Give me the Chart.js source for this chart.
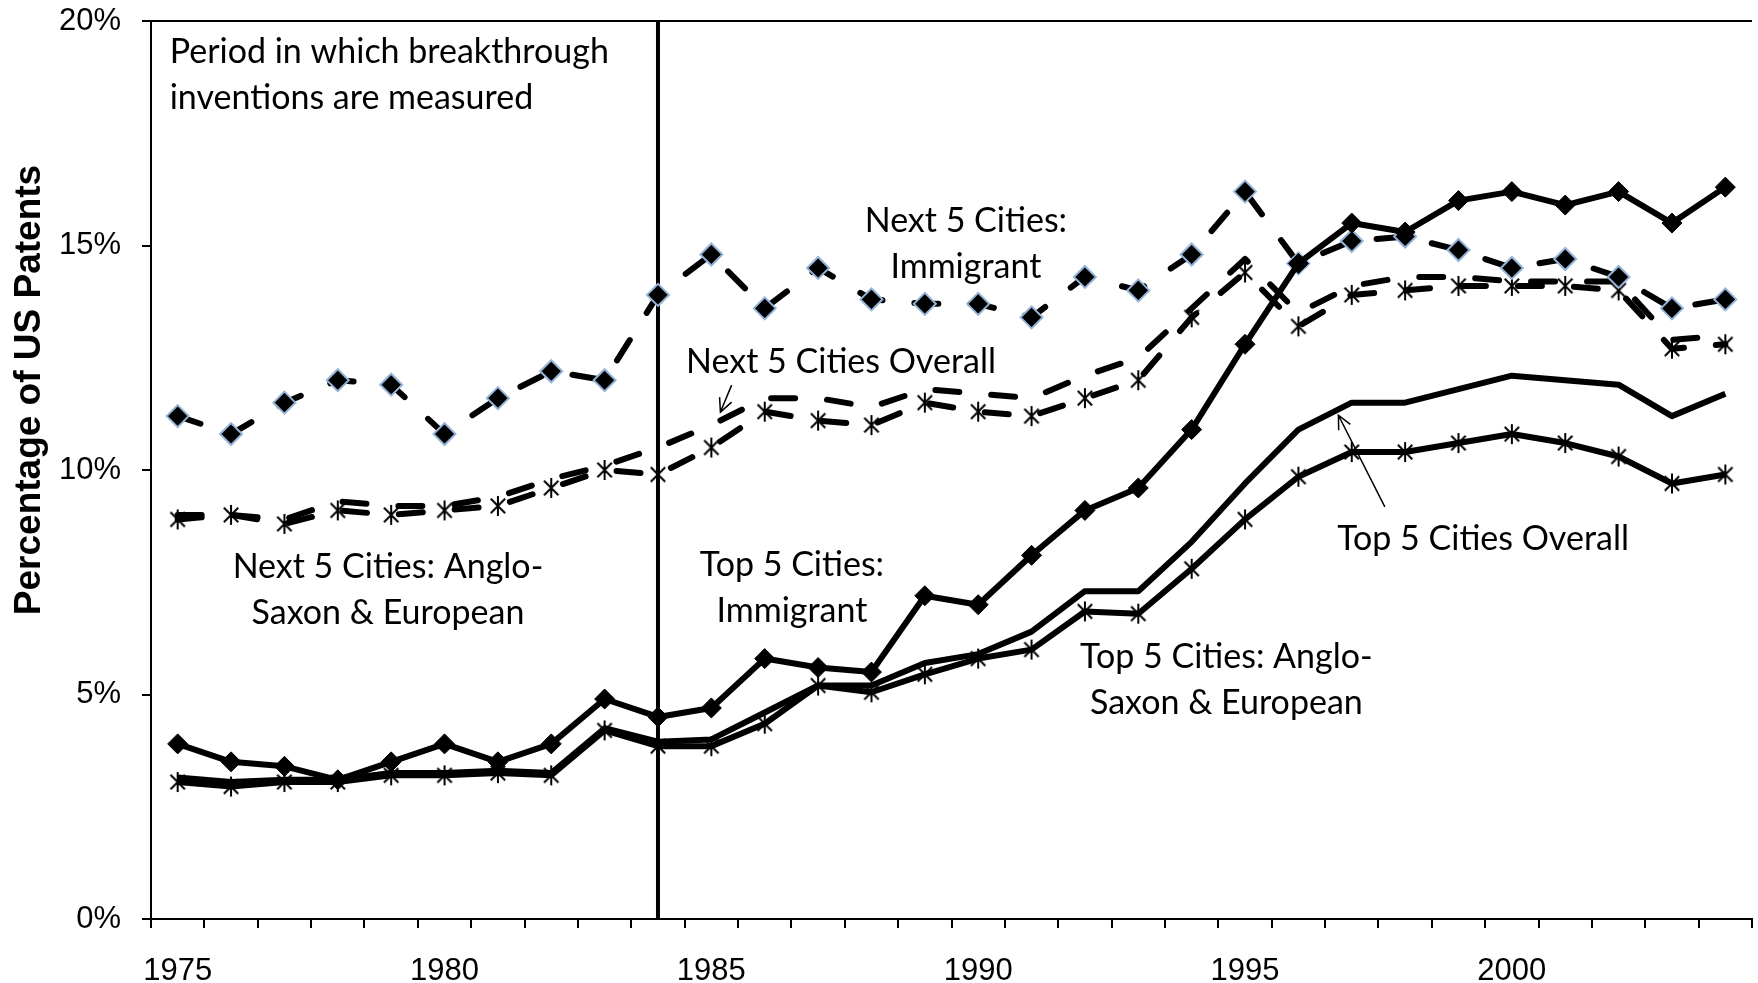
<!DOCTYPE html>
<html>
<head>
<meta charset="utf-8">
<script src="https://cdn.jsdelivr.net/npm/chart.js@4.4.0/dist/chart.umd.min.js"></script>
<style>
  html, body { margin: 0; padding: 0; background: #fff; overflow: hidden; }
  #wrap { width: 1768px; height: 983px; position: relative; }
</style>
</head>
<body>
<div id="wrap"><canvas id="patentChart"></canvas></div>
<script>
var years = ['1975','1976','1977','1978','1979','1980','1981','1982','1983','1984',
             '1985','1986','1987','1988','1989','1990','1991','1992','1993','1994',
             '1995','1996','1997','1998','1999','2000','2001','2002','2003','2004'];

// share of US patents, %
var next5Immigrant = [11.2,10.8,11.5,12.0,11.9,10.8,11.6,12.2,12.0,13.9,
                      14.8,13.6,14.5,13.8,13.7,13.7,13.4,14.3,14.0,14.8,
                      16.2,14.6,15.1,15.2,14.9,14.5,14.7,14.3,13.6,13.8];
var next5Overall   = [9.0,9.0,8.9,9.3,9.2,9.2,9.4,9.8,10.1,10.5,
                      11.0,11.6,11.6,11.4,11.8,11.7,11.6,12.1,12.5,13.6,
                      14.7,13.5,14.1,14.3,14.3,14.2,14.2,14.2,12.9,13.0];
var next5Anglo     = [8.9,9.0,8.8,9.1,9.0,9.1,9.2,9.6,10.0,9.9,
                      10.5,11.3,11.1,11.0,11.5,11.3,11.2,11.6,12.0,13.4,
                      14.4,13.2,13.9,14.0,14.1,14.1,14.1,14.0,12.7,12.8];
var top5Immigrant  = [3.9,3.5,3.4,3.1,3.5,3.9,3.5,3.9,4.9,4.5,
                      4.7,5.8,5.6,5.5,7.2,7.0,8.1,9.1,9.6,10.9,
                      12.8,14.6,15.5,15.3,16.0,16.2,15.9,16.2,15.5,16.3];
var top5Overall    = [3.15,3.05,3.1,3.1,3.25,3.25,3.3,3.25,4.25,3.95,
                      4.0,4.6,5.2,5.2,5.7,5.9,6.4,7.3,7.3,8.4,
                      9.7,10.9,11.5,11.5,11.8,12.1,12.0,11.9,11.2,11.7];
var top5Anglo      = [3.05,2.95,3.05,3.05,3.2,3.2,3.25,3.2,4.2,3.85,
                      3.85,4.35,5.2,5.05,5.45,5.8,6.0,6.85,6.8,7.8,
                      8.9,9.85,10.4,10.4,10.6,10.8,10.6,10.3,9.7,9.9];

var yTicks = [0, 5, 10, 15, 20];
var markerYear = '1984';

// text notes, placed in data space (x = category index, y = % at baseline)
var notes = [
  { lines: ['Period in which breakthrough', 'inventions are measured'], x: -0.15, y: 19.07, align: 'left' },
  { lines: ['Next 5 Cities:', 'Immigrant'], x: 14.77, y: 15.31, align: 'center' },
  { lines: ['Next 5 Cities Overall'], x: 12.43, y: 12.16, align: 'center' },
  { lines: ['Next 5 Cities: Anglo-', 'Saxon & European'], x: 3.94, y: 7.59, align: 'center' },
  { lines: ['Top 5 Cities:', 'Immigrant'], x: 11.51, y: 7.64, align: 'center' },
  { lines: ['Top 5 Cities: Anglo-', 'Saxon & European'], x: 19.65, y: 5.58, align: 'center' },
  { lines: ['Top 5 Cities Overall'], x: 24.46, y: 8.22, align: 'center' }
];
var arrows = [
  { from: [10.38, 11.89], to: [10.17, 11.29] },
  { from: [22.62, 9.18], to: [21.75, 11.22] }
];

function makeAsterisk(size, lw) {
  var c = document.createElement('canvas');
  c.width = size; c.height = size;
  var g = c.getContext('2d');
  var h = size / 2, r = size / 2 - 1, d = r * 0.72;
  g.strokeStyle = '#000';
  g.lineWidth = lw;
  g.beginPath();
  g.moveTo(h, h - r); g.lineTo(h, h + r);
  g.moveTo(h - d, h - d); g.lineTo(h + d, h + d);
  g.moveTo(h + d, h - d); g.lineTo(h - d, h + d);
  g.stroke();
  return c;
}
var asterisk = makeAsterisk(22, 2);

var notesPlugin = {
  id: 'notes',
  beforeDatasetsDraw: function(chart) {
    var ctx = chart.ctx, xs = chart.scales.x, a = chart.chartArea;
    var px = xs.getPixelForValue(years.indexOf(markerYear));
    ctx.save();
    ctx.strokeStyle = '#000';
    ctx.lineWidth = 4;
    ctx.beginPath();
    ctx.moveTo(px, a.top);
    ctx.lineTo(px, a.bottom);
    ctx.stroke();
    ctx.restore();
  },
  afterDraw: function(chart) {
    var ctx = chart.ctx, xs = chart.scales.x, ys = chart.scales.y;
    ctx.save();
    ctx.fillStyle = '#000';
    ctx.font = '34px Lato';
    ctx.textBaseline = 'alphabetic';
    notes.forEach(function(n) {
      ctx.textAlign = n.align;
      var x = xs.getPixelForValue(n.x), y = ys.getPixelForValue(n.y);
      n.lines.forEach(function(t, i) { ctx.fillText(t, x, y + i * 46); });
    });

    ctx.strokeStyle = '#000';
    ctx.lineWidth = 1.5;
    arrows.forEach(function(ar) {
      var x0 = xs.getPixelForValue(ar.from[0]), y0 = ys.getPixelForValue(ar.from[1]);
      var x1 = xs.getPixelForValue(ar.to[0]), y1 = ys.getPixelForValue(ar.to[1]);
      var ang = Math.atan2(y1 - y0, x1 - x0), len = 15, spread = 0.45;
      ctx.beginPath();
      ctx.moveTo(x0, y0); ctx.lineTo(x1, y1);
      ctx.moveTo(x1 - len * Math.cos(ang - spread), y1 - len * Math.sin(ang - spread));
      ctx.lineTo(x1, y1);
      ctx.lineTo(x1 - len * Math.cos(ang + spread), y1 - len * Math.sin(ang + spread));
      ctx.stroke();
    });

    // y axis title
    ctx.translate(30, 390);
    ctx.rotate(-Math.PI / 2);
    ctx.font = 'bold 37px "Liberation Sans"';
    ctx.textAlign = 'center';
    ctx.textBaseline = 'middle';
    ctx.fillText('Percentage of US Patents', 0, 0);
    ctx.restore();
  }
};

var dashed = [24, 32];
var ctx = document.getElementById('patentChart');
var patentChart = new Chart(ctx, {
  type: 'line',
  data: {
    labels: years,
    datasets: [
      { label: 'Top 5 Cities: Immigrant', data: top5Immigrant, borderColor: '#000', borderWidth: 6,
        pointStyle: 'rectRot', pointRadius: 10, pointBackgroundColor: '#000', pointBorderColor: '#000', pointBorderWidth: 1 },
      { label: 'Top 5 Cities: Anglo-Saxon & European', data: top5Anglo, borderColor: '#000', borderWidth: 6,
        pointStyle: asterisk, pointRadius: 10 },
      { label: 'Top 5 Cities Overall', data: top5Overall, borderColor: '#000', borderWidth: 6, pointRadius: 0 },
      { label: 'Next 5 Cities: Immigrant', data: next5Immigrant, borderColor: '#000', borderWidth: 6,
        borderDash: dashed, borderCapStyle: 'round',
        pointStyle: 'rectRot', pointRadius: 11, pointBackgroundColor: '#000', pointBorderColor: '#95B3D7', pointBorderWidth: 2 },
      { label: 'Next 5 Cities: Anglo-Saxon & European', data: next5Anglo, borderColor: '#000', borderWidth: 6,
        borderDash: dashed, borderCapStyle: 'round', pointStyle: asterisk, pointRadius: 10 },
      { label: 'Next 5 Cities Overall', data: next5Overall, borderColor: '#000', borderWidth: 6,
        borderDash: dashed, borderCapStyle: 'round', pointRadius: 0 }
    ]
  },
  options: {
    responsive: true,
    maintainAspectRatio: false,
    animation: false,
    layout: { padding: { top: 21, left: 0, right: 0, bottom: 0 } },
    elements: { line: { tension: 0, borderJoinStyle: 'round', fill: false } },
    plugins: { legend: { display: false }, tooltip: { enabled: false } },
    scales: {
      x: {
        type: 'category',
        offset: true,
        grid: { offset: true, drawOnChartArea: false, drawTicks: true, tickLength: 9, color: '#000', lineWidth: 2 },
        border: { display: true, color: '#000', width: 2 },
        ticks: {
          autoSkip: false, maxRotation: 0, padding: 25, color: '#000',
          font: { family: '"Liberation Sans", Arial', size: 31 },
          callback: function(v, i) { return Number(years[i]) % 5 === 0 ? years[i] : ''; }
        },
        afterFit: function(s) { s.height = 64; s.paddingLeft = 0; s.paddingRight = 0; }
      },
      y: {
        min: 0, max: 20,
        afterBuildTicks: function(s) { s.ticks = yTicks.map(function(v) { return { value: v }; }); },
        grid: {
          drawOnChartArea: true, drawTicks: true, tickLength: 9, lineWidth: 2, tickColor: '#000',
          color: function(c) { return c.tick && c.tick.value === 20 ? '#000' : 'rgba(0,0,0,0)'; }
        },
        border: { display: true, color: '#000', width: 2 },
        ticks: {
          padding: 21, color: '#000',
          font: { family: '"Liberation Sans", Arial', size: 31 },
          callback: function(v) { return v + '%'; }
        },
        afterFit: function(s) { s.width = 151; s.paddingTop = 0; s.paddingBottom = 0; }
      }
    }
  },
  plugins: [notesPlugin]
});
</script>
</body>
</html>
